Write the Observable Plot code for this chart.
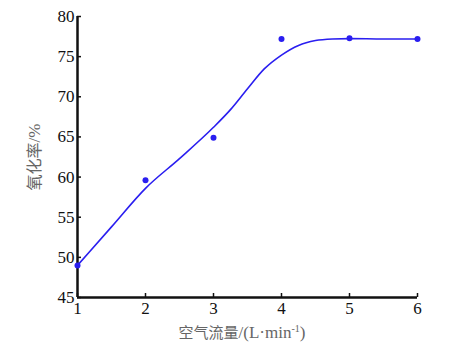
<!DOCTYPE html>
<html><head><meta charset="utf-8">
<script src="https://cdn.jsdelivr.net/npm/d3@7"></script>
<script src="https://cdn.jsdelivr.net/npm/@observablehq/plot@0.6"></script>
<style>body{margin:0;background:#fff}</style>
</head><body><div id="chart"></div>
<script>
const flowRate = [1, 2, 3, 4, 5, 6];
const oxidation = [49.0, 59.6, 64.9, 77.2, 77.3, 77.2];
const fitX = [1, 1.5, 2, 2.5, 3, 3.25, 3.5, 3.75, 4, 4.25, 4.5, 4.75, 5, 5.5, 6];
const fitY = [49.0, 53.8, 58.6, 62.3, 66.2, 68.4, 71.0, 73.5, 75.2, 76.4, 77.0, 77.2, 77.25, 77.2, 77.2];
const xTicks = [1, 2, 3, 4, 5, 6];
const yTicks = [45, 50, 55, 60, 65, 70, 75, 80];

const pts = flowRate.map((x, i) => ({x, y: oxidation[i]}));
const fit = fitX.map((x, i) => ({x, y: fitY[i]}));
const serif = "'Liberation Serif', 'Times New Roman', serif";
const cjk = "'Noto Sans CJK SC', sans-serif";

const chart = Plot.plot({
  width: 464, height: 355,
  marginLeft: 77, marginRight: 47, marginTop: 16, marginBottom: 58,
  style: {fontSize: "17px", color: "#111", background: "#fff"},
  x: {domain: [1, 6]},
  y: {domain: [45, 80]},
  marks: [
    Plot.axisX({ticks: xTicks, tickSize: -4, tickPadding: 8, tickFormat: d => d, label: null, fontSize: 17, fontFamily: serif, strokeWidth: 1.5}),
    Plot.axisY({ticks: yTicks, tickSize: -4, tickPadding: 7, tickFormat: d => d, label: null, fontSize: 17, fontFamily: serif, strokeWidth: 1.5}),
    Plot.ruleY([45], {stroke: "#111", strokeWidth: 2.5}),
    Plot.ruleX([1], {stroke: "#111", strokeWidth: 2.5}),
    Plot.line(fit, {x: "x", y: "y", curve: "monotone-x", stroke: "#2a1ef0", strokeWidth: 1.6}),
    Plot.dot(pts, {x: "x", y: "y", r: 3, fill: "#2a1ef0", stroke: "none"})
  ]
});

const svg = d3.select(chart);
svg.selectAll("text").style("font-family", serif).style("font-size", "17px");
const xl = svg.append("text")
  .attr("x", 242).attr("y", 338)
  .attr("text-anchor", "middle")
  .attr("fill", "#666")
  .style("font-family", serif)
  .style("font-size", "17px");
xl.append("tspan").style("font-family", cjk).style("font-size", "15px").text("空气流量");
xl.append("tspan").text("/(L·min");
xl.append("tspan").style("font-size", "10px").attr("dy", -6).text("-1");
xl.append("tspan").attr("dy", 6).text(")");
const yl = svg.append("text")
  .attr("transform", "translate(40,157) rotate(-90)")
  .attr("text-anchor", "middle")
  .attr("fill", "#666")
  .style("font-family", serif)
  .style("font-size", "17px");
yl.append("tspan").style("font-family", cjk).style("font-size", "16px").text("氧化率");
yl.append("tspan").text("/%");

document.getElementById("chart").appendChild(chart);
</script>
</body></html>
